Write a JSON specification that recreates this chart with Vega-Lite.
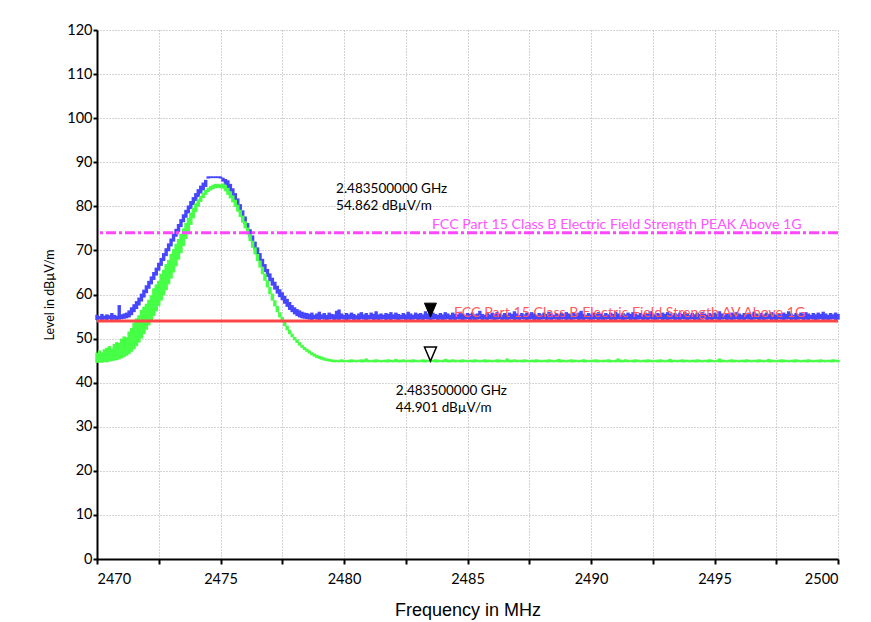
{
"$schema":"https://vega.github.io/schema/vega-lite/v6.json",
"width":741,"height":529,
"autosize":{"type":"none"},
"padding":{"left":97,"top":30,"right":33,"bottom":63},
"background":"white",
"config":{"view":{"stroke":null},"axis":{"labelFont":"Lato","labelFontSize":14.5,"labelColor":"black","titleColor":"black","domainColor":"black","domainWidth":2,"tickColor":"black","tickWidth":2,"gridColor":"#a8a8a8","gridDash":[1,2],"gridWidth":1}},
"datasets":{
"tr":[
{"f":2470.0,"b1":54.2,"b2":55.4,"g1":44.5,"g2":46.8},
{"f":2470.1,"b1":54.3,"b2":55.1,"g1":44.6,"g2":47.3},
{"f":2470.2,"b1":54.1,"b2":55.6,"g1":44.5,"g2":46.9},
{"f":2470.3,"b1":54.3,"b2":55.2,"g1":44.7,"g2":47.6},
{"f":2470.4,"b1":54.2,"b2":55.5,"g1":44.6,"g2":47.9},
{"f":2470.5,"b1":54.4,"b2":55.3,"g1":44.8,"g2":48.3},
{"f":2470.6,"b1":54.2,"b2":55.8,"g1":44.9,"g2":47.8},
{"f":2470.7,"b1":54.3,"b2":55.4,"g1":45.0,"g2":48.8},
{"f":2470.8,"b1":54.2,"b2":55.2,"g1":45.1,"g2":49.2},
{"f":2470.9,"b1":54.3,"b2":57.6,"g1":45.3,"g2":49.0},
{"f":2471.0,"b1":54.4,"b2":55.5,"g1":45.5,"g2":50.0},
{"f":2471.1,"b1":54.5,"b2":55.7,"g1":45.8,"g2":50.5},
{"f":2471.2,"b1":54.6,"b2":55.9,"g1":46.1,"g2":50.3},
{"f":2471.3,"b1":54.8,"b2":56.4,"g1":46.5,"g2":51.6},
{"f":2471.4,"b1":55.3,"b2":57.1,"g1":47.0,"g2":52.4},
{"f":2471.5,"b1":56.0,"b2":57.8,"g1":47.6,"g2":53.6},
{"f":2471.6,"b1":56.7,"b2":58.5,"g1":48.3,"g2":54.6},
{"f":2471.7,"b1":57.5,"b2":59.3,"g1":49.1,"g2":55.3},
{"f":2471.8,"b1":58.4,"b2":60.2,"g1":50.0,"g2":56.5},
{"f":2471.9,"b1":59.3,"b2":61.1,"g1":51.0,"g2":57.2},
{"f":2472.0,"b1":60.3,"b2":62.1,"g1":52.0,"g2":57.9},
{"f":2472.1,"b1":61.3,"b2":63.1,"g1":53.0,"g2":58.8},
{"f":2472.2,"b1":62.3,"b2":64.1,"g1":54.0,"g2":59.8},
{"f":2472.3,"b1":63.3,"b2":65.1,"g1":55.1,"g2":61.4},
{"f":2472.4,"b1":64.3,"b2":66.1,"g1":56.2,"g2":62.3},
{"f":2472.5,"b1":65.4,"b2":67.2,"g1":57.4,"g2":63.1},
{"f":2472.6,"b1":66.5,"b2":68.3,"g1":58.6,"g2":64.7},
{"f":2472.7,"b1":67.6,"b2":69.4,"g1":59.8,"g2":65.6},
{"f":2472.8,"b1":68.7,"b2":70.5,"g1":61.0,"g2":66.9},
{"f":2472.9,"b1":69.8,"b2":71.6,"g1":62.3,"g2":67.8},
{"f":2473.0,"b1":70.9,"b2":72.7,"g1":63.6,"g2":69.2},
{"f":2473.1,"b1":72.0,"b2":73.8,"g1":65.0,"g2":70.3},
{"f":2473.2,"b1":73.1,"b2":74.9,"g1":66.4,"g2":71.5},
{"f":2473.3,"b1":74.2,"b2":76.0,"g1":67.9,"g2":72.6},
{"f":2473.4,"b1":75.3,"b2":77.1,"g1":69.4,"g2":73.8},
{"f":2473.5,"b1":76.4,"b2":78.2,"g1":71.0,"g2":75.0},
{"f":2473.6,"b1":77.4,"b2":79.2,"g1":72.6,"g2":76.2},
{"f":2473.7,"b1":78.4,"b2":80.2,"g1":74.2,"g2":77.4},
{"f":2473.8,"b1":79.4,"b2":81.2,"g1":75.8,"g2":78.6},
{"f":2473.9,"b1":80.3,"b2":82.1,"g1":77.3,"g2":79.7},
{"f":2474.0,"b1":81.2,"b2":83.0,"g1":78.7,"g2":80.7},
{"f":2474.1,"b1":82.1,"b2":83.9,"g1":79.9,"g2":81.6},
{"f":2474.2,"b1":82.9,"b2":84.7,"g1":81.0,"g2":82.4},
{"f":2474.3,"b1":83.6,"b2":85.4,"g1":81.9,"g2":83.1},
{"f":2474.4,"b1":84.4,"b2":86.0,"g1":82.6,"g2":83.7},
{"f":2474.5,"b1":86.3,"b2":86.8,"g1":83.2,"g2":84.2},
{"f":2474.6,"b1":86.4,"b2":86.8,"g1":83.6,"g2":84.6},
{"f":2474.7,"b1":86.4,"b2":86.8,"g1":83.9,"g2":84.9},
{"f":2474.8,"b1":86.4,"b2":86.8,"g1":84.1,"g2":85.1},
{"f":2474.9,"b1":86.4,"b2":86.8,"g1":84.2,"g2":85.1},
{"f":2475.0,"b1":86.3,"b2":86.8,"g1":84.1,"g2":85.0},
{"f":2475.1,"b1":85.6,"b2":86.5,"g1":84.0,"g2":85.2},
{"f":2475.2,"b1":84.9,"b2":86.2,"g1":83.4,"g2":84.8},
{"f":2475.3,"b1":84.1,"b2":85.9,"g1":82.6,"g2":84.2},
{"f":2475.4,"b1":83.3,"b2":85.1,"g1":81.8,"g2":83.4},
{"f":2475.5,"b1":82.3,"b2":84.1,"g1":80.9,"g2":82.5},
{"f":2475.6,"b1":81.2,"b2":83.0,"g1":79.9,"g2":81.5},
{"f":2475.7,"b1":80.0,"b2":81.8,"g1":78.8,"g2":80.4},
{"f":2475.8,"b1":78.7,"b2":80.5,"g1":77.6,"g2":79.2},
{"f":2475.9,"b1":77.3,"b2":79.1,"g1":76.3,"g2":77.9},
{"f":2476.0,"b1":75.9,"b2":77.7,"g1":75.0,"g2":76.6},
{"f":2476.1,"b1":74.4,"b2":76.2,"g1":73.6,"g2":75.2},
{"f":2476.2,"b1":73.0,"b2":74.8,"g1":72.1,"g2":73.7},
{"f":2476.3,"b1":71.6,"b2":73.4,"g1":70.6,"g2":72.2},
{"f":2476.4,"b1":70.2,"b2":72.0,"g1":69.1,"g2":70.7},
{"f":2476.5,"b1":68.9,"b2":70.7,"g1":67.6,"g2":69.2},
{"f":2476.6,"b1":67.6,"b2":69.4,"g1":66.1,"g2":67.7},
{"f":2476.7,"b1":66.3,"b2":68.1,"g1":64.6,"g2":66.2},
{"f":2476.8,"b1":65.1,"b2":66.9,"g1":63.1,"g2":64.7},
{"f":2476.9,"b1":64.0,"b2":65.8,"g1":61.6,"g2":63.2},
{"f":2477.0,"b1":63.0,"b2":64.8,"g1":60.1,"g2":61.7},
{"f":2477.1,"b1":62.0,"b2":63.8,"g1":58.6,"g2":60.2},
{"f":2477.2,"b1":61.1,"b2":62.9,"g1":57.3,"g2":58.7},
{"f":2477.3,"b1":60.2,"b2":62.0,"g1":56.0,"g2":57.4},
{"f":2477.4,"b1":59.4,"b2":61.2,"g1":54.8,"g2":56.0},
{"f":2477.5,"b1":58.7,"b2":60.5,"g1":53.7,"g2":54.9},
{"f":2477.6,"b1":57.9,"b2":59.7,"g1":52.8,"g2":53.8},
{"f":2477.7,"b1":57.2,"b2":59.0,"g1":51.9,"g2":52.9},
{"f":2477.8,"b1":56.5,"b2":58.3,"g1":51.0,"g2":52.0},
{"f":2477.9,"b1":56.0,"b2":57.6,"g1":50.3,"g2":51.1},
{"f":2478.0,"b1":55.5,"b2":57.1,"g1":49.6,"g2":50.4},
{"f":2478.1,"b1":55.1,"b2":56.7,"g1":49.0,"g2":49.8},
{"f":2478.2,"b1":54.8,"b2":56.4,"g1":48.4,"g2":49.2},
{"f":2478.3,"b1":54.6,"b2":56.1,"g1":47.9,"g2":48.6},
{"f":2478.4,"b1":54.5,"b2":55.9,"g1":47.4,"g2":48.1},
{"f":2478.5,"b1":54.4,"b2":55.8,"g1":47.0,"g2":47.7},
{"f":2478.6,"b1":54.3,"b2":55.6,"g1":46.6,"g2":47.3},
{"f":2478.7,"b1":54.2,"b2":55.9,"g1":46.2,"g2":46.9},
{"f":2478.8,"b1":54.4,"b2":55.4,"g1":45.9,"g2":46.6},
{"f":2478.9,"b1":54.3,"b2":55.7,"g1":45.6,"g2":46.3},
{"f":2479.0,"b1":54.2,"b2":56.1,"g1":45.4,"g2":46.1},
{"f":2479.1,"b1":54.4,"b2":55.5,"g1":45.2,"g2":45.9},
{"f":2479.2,"b1":54.3,"b2":55.8,"g1":45.0,"g2":45.7},
{"f":2479.3,"b1":54.1,"b2":55.4,"g1":44.9,"g2":45.5},
{"f":2479.4,"b1":54.3,"b2":55.9,"g1":44.8,"g2":45.4},
{"f":2479.5,"b1":54.4,"b2":55.6,"g1":44.7,"g2":45.3},
{"f":2479.6,"b1":54.2,"b2":55.5,"g1":44.6,"g2":45.2},
{"f":2479.7,"b1":54.3,"b2":56.3,"g1":44.7,"g2":45.2},
{"f":2479.8,"b1":54.2,"b2":56.6,"g1":44.6,"g2":45.1},
{"f":2479.9,"b1":54.4,"b2":55.7,"g1":44.7,"g2":45.3},
{"f":2480.0,"b1":54.3,"b2":55.4,"g1":44.6,"g2":45.2},
{"f":2480.1,"b1":54.1,"b2":55.8,"g1":44.7,"g2":45.1},
{"f":2480.2,"b1":54.3,"b2":55.5,"g1":44.6,"g2":45.2},
{"f":2480.3,"b1":54.4,"b2":55.9,"g1":44.6,"g2":45.3},
{"f":2480.4,"b1":54.2,"b2":55.6,"g1":44.7,"g2":45.2},
{"f":2480.5,"b1":54.3,"b2":55.3,"g1":44.6,"g2":45.1},
{"f":2480.6,"b1":54.2,"b2":55.7,"g1":44.7,"g2":45.2},
{"f":2480.7,"b1":54.4,"b2":56.0,"g1":44.6,"g2":45.3},
{"f":2480.8,"b1":54.3,"b2":55.5,"g1":44.6,"g2":45.2},
{"f":2480.9,"b1":54.2,"b2":55.8,"g1":44.7,"g2":45.5},
{"f":2481.0,"b1":54.3,"b2":55.4,"g1":44.6,"g2":45.2},
{"f":2481.1,"b1":54.4,"b2":55.9,"g1":44.7,"g2":45.1},
{"f":2481.2,"b1":54.2,"b2":55.6,"g1":44.6,"g2":45.2},
{"f":2481.3,"b1":54.3,"b2":56.2,"g1":44.6,"g2":45.3},
{"f":2481.4,"b1":54.1,"b2":55.5,"g1":44.7,"g2":45.2},
{"f":2481.5,"b1":54.3,"b2":55.7,"g1":44.6,"g2":45.1},
{"f":2481.6,"b1":54.4,"b2":55.4,"g1":44.7,"g2":45.2},
{"f":2481.7,"b1":54.2,"b2":55.8,"g1":44.6,"g2":45.2},
{"f":2481.8,"b1":54.3,"b2":55.6,"g1":44.6,"g2":45.3},
{"f":2481.9,"b1":54.2,"b2":56.0,"g1":44.7,"g2":45.2},
{"f":2482.0,"b1":54.4,"b2":55.5,"g1":44.6,"g2":45.1},
{"f":2482.1,"b1":54.3,"b2":55.9,"g1":44.7,"g2":45.4},
{"f":2482.2,"b1":54.2,"b2":55.6,"g1":44.6,"g2":45.2},
{"f":2482.3,"b1":54.3,"b2":55.4,"g1":44.6,"g2":45.2},
{"f":2482.4,"b1":54.4,"b2":55.8,"g1":44.7,"g2":45.3},
{"f":2482.5,"b1":54.2,"b2":55.5,"g1":44.6,"g2":45.1},
{"f":2482.6,"b1":54.3,"b2":56.1,"g1":44.7,"g2":45.2},
{"f":2482.7,"b1":54.1,"b2":55.7,"g1":44.6,"g2":45.2},
{"f":2482.8,"b1":54.3,"b2":55.4,"g1":44.6,"g2":45.3},
{"f":2482.9,"b1":54.4,"b2":55.9,"g1":44.7,"g2":45.2},
{"f":2483.0,"b1":54.2,"b2":55.6,"g1":44.6,"g2":45.1},
{"f":2483.1,"b1":54.3,"b2":55.8,"g1":44.7,"g2":45.2},
{"f":2483.2,"b1":54.2,"b2":55.5,"g1":44.6,"g2":45.3},
{"f":2483.3,"b1":54.4,"b2":56.2,"g1":44.6,"g2":45.2},
{"f":2483.4,"b1":54.3,"b2":55.7,"g1":44.7,"g2":45.2},
{"f":2483.5,"b1":54.2,"b2":55.5,"g1":44.6,"g2":45.1},
{"f":2483.6,"b1":54.3,"b2":55.9,"g1":44.7,"g2":45.2},
{"f":2483.7,"b1":54.4,"b2":55.6,"g1":44.6,"g2":45.3},
{"f":2483.8,"b1":54.2,"b2":55.4,"g1":44.6,"g2":45.2},
{"f":2483.9,"b1":54.3,"b2":55.8,"g1":44.7,"g2":45.1},
{"f":2484.0,"b1":54.1,"b2":55.5,"g1":44.6,"g2":45.2},
{"f":2484.1,"b1":54.3,"b2":56.0,"g1":44.7,"g2":45.4},
{"f":2484.2,"b1":54.4,"b2":55.7,"g1":44.6,"g2":45.2},
{"f":2484.3,"b1":54.2,"b2":55.4,"g1":44.6,"g2":45.2},
{"f":2484.4,"b1":54.3,"b2":55.9,"g1":44.7,"g2":45.3},
{"f":2484.5,"b1":54.2,"b2":55.6,"g1":44.6,"g2":45.2},
{"f":2484.6,"b1":54.4,"b2":55.5,"g1":44.7,"g2":45.1},
{"f":2484.7,"b1":54.3,"b2":56.1,"g1":44.6,"g2":45.2},
{"f":2484.8,"b1":54.2,"b2":55.7,"g1":44.6,"g2":45.3},
{"f":2484.9,"b1":54.3,"b2":55.4,"g1":44.7,"g2":45.2},
{"f":2485.0,"b1":54.4,"b2":55.8,"g1":44.6,"g2":45.1},
{"f":2485.1,"b1":54.2,"b2":55.6,"g1":44.7,"g2":45.2},
{"f":2485.2,"b1":54.3,"b2":55.9,"g1":44.6,"g2":45.2},
{"f":2485.3,"b1":54.1,"b2":55.5,"g1":44.6,"g2":45.3},
{"f":2485.4,"b1":54.3,"b2":55.7,"g1":44.7,"g2":45.2},
{"f":2485.5,"b1":54.4,"b2":56.3,"g1":44.6,"g2":45.1},
{"f":2485.6,"b1":54.2,"b2":55.6,"g1":44.7,"g2":45.2},
{"f":2485.7,"b1":54.3,"b2":55.4,"g1":44.6,"g2":45.3},
{"f":2485.8,"b1":54.2,"b2":55.8,"g1":44.6,"g2":45.2},
{"f":2485.9,"b1":54.4,"b2":55.5,"g1":44.7,"g2":45.2},
{"f":2486.0,"b1":54.3,"b2":55.9,"g1":44.6,"g2":45.1},
{"f":2486.1,"b1":54.2,"b2":55.6,"g1":44.7,"g2":45.2},
{"f":2486.2,"b1":54.3,"b2":56.0,"g1":44.6,"g2":45.3},
{"f":2486.3,"b1":54.4,"b2":55.7,"g1":44.6,"g2":45.2},
{"f":2486.4,"b1":54.2,"b2":55.4,"g1":44.7,"g2":45.2},
{"f":2486.5,"b1":54.3,"b2":55.8,"g1":44.6,"g2":45.1},
{"f":2486.6,"b1":54.1,"b2":55.5,"g1":44.7,"g2":45.5},
{"f":2486.7,"b1":54.3,"b2":55.9,"g1":44.6,"g2":45.2},
{"f":2486.8,"b1":54.4,"b2":55.6,"g1":44.6,"g2":45.2},
{"f":2486.9,"b1":54.2,"b2":56.2,"g1":44.7,"g2":45.3},
{"f":2487.0,"b1":54.3,"b2":55.7,"g1":44.6,"g2":45.2},
{"f":2487.1,"b1":54.2,"b2":55.4,"g1":44.7,"g2":45.1},
{"f":2487.2,"b1":54.4,"b2":55.8,"g1":44.6,"g2":45.2},
{"f":2487.3,"b1":54.3,"b2":55.5,"g1":44.6,"g2":45.3},
{"f":2487.4,"b1":54.2,"b2":55.9,"g1":44.7,"g2":45.2},
{"f":2487.5,"b1":54.3,"b2":55.6,"g1":44.6,"g2":45.1},
{"f":2487.6,"b1":54.4,"b2":56.0,"g1":44.7,"g2":45.2},
{"f":2487.7,"b1":54.2,"b2":55.7,"g1":44.6,"g2":45.2},
{"f":2487.8,"b1":54.3,"b2":55.4,"g1":44.6,"g2":45.3},
{"f":2487.9,"b1":54.1,"b2":55.8,"g1":44.7,"g2":45.2},
{"f":2488.0,"b1":54.3,"b2":55.5,"g1":44.6,"g2":45.1},
{"f":2488.1,"b1":54.4,"b2":55.9,"g1":44.7,"g2":45.2},
{"f":2488.2,"b1":54.2,"b2":55.6,"g1":44.6,"g2":45.2},
{"f":2488.3,"b1":54.3,"b2":56.1,"g1":44.6,"g2":45.3},
{"f":2488.4,"b1":54.2,"b2":55.7,"g1":44.7,"g2":45.2},
{"f":2488.5,"b1":54.4,"b2":55.4,"g1":44.6,"g2":45.1},
{"f":2488.6,"b1":54.3,"b2":55.8,"g1":44.7,"g2":45.2},
{"f":2488.7,"b1":54.2,"b2":55.5,"g1":44.6,"g2":45.4},
{"f":2488.8,"b1":54.3,"b2":55.9,"g1":44.6,"g2":45.2},
{"f":2488.9,"b1":54.4,"b2":55.6,"g1":44.7,"g2":45.2},
{"f":2489.0,"b1":54.2,"b2":56.0,"g1":44.6,"g2":45.1},
{"f":2489.1,"b1":54.3,"b2":55.7,"g1":44.7,"g2":45.2},
{"f":2489.2,"b1":54.1,"b2":55.4,"g1":44.6,"g2":45.3},
{"f":2489.3,"b1":54.3,"b2":55.8,"g1":44.6,"g2":45.2},
{"f":2489.4,"b1":54.4,"b2":55.5,"g1":44.7,"g2":45.2},
{"f":2489.5,"b1":54.2,"b2":55.9,"g1":44.6,"g2":45.1},
{"f":2489.6,"b1":54.3,"b2":56.3,"g1":44.7,"g2":45.2},
{"f":2489.7,"b1":54.2,"b2":55.6,"g1":44.6,"g2":45.3},
{"f":2489.8,"b1":54.4,"b2":55.4,"g1":44.6,"g2":45.2},
{"f":2489.9,"b1":54.3,"b2":55.8,"g1":44.7,"g2":45.1},
{"f":2490.0,"b1":54.2,"b2":55.5,"g1":44.6,"g2":45.2},
{"f":2490.1,"b1":54.3,"b2":55.9,"g1":44.7,"g2":45.2},
{"f":2490.2,"b1":54.4,"b2":55.6,"g1":44.6,"g2":45.3},
{"f":2490.3,"b1":54.2,"b2":56.0,"g1":44.6,"g2":45.2},
{"f":2490.4,"b1":54.3,"b2":55.7,"g1":44.7,"g2":45.1},
{"f":2490.5,"b1":54.1,"b2":55.4,"g1":44.6,"g2":45.2},
{"f":2490.6,"b1":54.3,"b2":55.8,"g1":44.7,"g2":45.2},
{"f":2490.7,"b1":54.4,"b2":55.5,"g1":44.6,"g2":45.3},
{"f":2490.8,"b1":54.2,"b2":55.9,"g1":44.6,"g2":45.2},
{"f":2490.9,"b1":54.3,"b2":55.6,"g1":44.7,"g2":45.1},
{"f":2491.0,"b1":54.2,"b2":56.1,"g1":44.6,"g2":45.2},
{"f":2491.1,"b1":54.4,"b2":55.7,"g1":44.7,"g2":45.5},
{"f":2491.2,"b1":54.3,"b2":55.4,"g1":44.6,"g2":45.2},
{"f":2491.3,"b1":54.2,"b2":55.8,"g1":44.6,"g2":45.2},
{"f":2491.4,"b1":54.3,"b2":55.5,"g1":44.7,"g2":45.3},
{"f":2491.5,"b1":54.4,"b2":55.9,"g1":44.6,"g2":45.2},
{"f":2491.6,"b1":54.2,"b2":55.6,"g1":44.7,"g2":45.1},
{"f":2491.7,"b1":54.3,"b2":56.0,"g1":44.6,"g2":45.2},
{"f":2491.8,"b1":54.1,"b2":55.7,"g1":44.6,"g2":45.3},
{"f":2491.9,"b1":54.3,"b2":55.4,"g1":44.7,"g2":45.2},
{"f":2492.0,"b1":54.4,"b2":55.8,"g1":44.6,"g2":45.1},
{"f":2492.1,"b1":54.2,"b2":55.5,"g1":44.7,"g2":45.2},
{"f":2492.2,"b1":54.3,"b2":55.9,"g1":44.6,"g2":45.2},
{"f":2492.3,"b1":54.2,"b2":55.6,"g1":44.6,"g2":45.3},
{"f":2492.4,"b1":54.4,"b2":56.2,"g1":44.7,"g2":45.2},
{"f":2492.5,"b1":54.3,"b2":55.7,"g1":44.6,"g2":45.1},
{"f":2492.6,"b1":54.2,"b2":55.4,"g1":44.7,"g2":45.2},
{"f":2492.7,"b1":54.3,"b2":55.8,"g1":44.6,"g2":45.2},
{"f":2492.8,"b1":54.4,"b2":55.5,"g1":44.6,"g2":45.3},
{"f":2492.9,"b1":54.2,"b2":55.9,"g1":44.7,"g2":45.2},
{"f":2493.0,"b1":54.3,"b2":55.6,"g1":44.6,"g2":45.1},
{"f":2493.1,"b1":54.1,"b2":56.0,"g1":44.7,"g2":45.2},
{"f":2493.2,"b1":54.3,"b2":55.7,"g1":44.6,"g2":45.4},
{"f":2493.3,"b1":54.4,"b2":55.4,"g1":44.6,"g2":45.2},
{"f":2493.4,"b1":54.2,"b2":55.8,"g1":44.7,"g2":45.2},
{"f":2493.5,"b1":54.3,"b2":55.5,"g1":44.6,"g2":45.1},
{"f":2493.6,"b1":54.2,"b2":55.9,"g1":44.7,"g2":45.2},
{"f":2493.7,"b1":54.4,"b2":55.6,"g1":44.6,"g2":45.3},
{"f":2493.8,"b1":54.3,"b2":56.1,"g1":44.6,"g2":45.2},
{"f":2493.9,"b1":54.2,"b2":55.7,"g1":44.7,"g2":45.2},
{"f":2494.0,"b1":54.3,"b2":55.4,"g1":44.6,"g2":45.1},
{"f":2494.1,"b1":54.4,"b2":55.8,"g1":44.7,"g2":45.2},
{"f":2494.2,"b1":54.2,"b2":55.5,"g1":44.6,"g2":45.2},
{"f":2494.3,"b1":54.3,"b2":55.9,"g1":44.6,"g2":45.3},
{"f":2494.4,"b1":54.1,"b2":55.6,"g1":44.7,"g2":45.2},
{"f":2494.5,"b1":54.3,"b2":56.0,"g1":44.6,"g2":45.1},
{"f":2494.6,"b1":54.4,"b2":55.7,"g1":44.7,"g2":45.2},
{"f":2494.7,"b1":54.2,"b2":55.4,"g1":44.6,"g2":45.2},
{"f":2494.8,"b1":54.3,"b2":55.8,"g1":44.6,"g2":45.3},
{"f":2494.9,"b1":54.2,"b2":55.5,"g1":44.7,"g2":45.2},
{"f":2495.0,"b1":54.4,"b2":55.9,"g1":44.6,"g2":45.1},
{"f":2495.1,"b1":54.3,"b2":55.6,"g1":44.7,"g2":45.2},
{"f":2495.2,"b1":54.2,"b2":56.2,"g1":44.6,"g2":45.5},
{"f":2495.3,"b1":54.3,"b2":55.7,"g1":44.6,"g2":45.2},
{"f":2495.4,"b1":54.4,"b2":55.4,"g1":44.7,"g2":45.2},
{"f":2495.5,"b1":54.2,"b2":55.8,"g1":44.6,"g2":45.1},
{"f":2495.6,"b1":54.3,"b2":55.5,"g1":44.7,"g2":45.2},
{"f":2495.7,"b1":54.1,"b2":55.9,"g1":44.6,"g2":45.3},
{"f":2495.8,"b1":54.3,"b2":55.6,"g1":44.6,"g2":45.2},
{"f":2495.9,"b1":54.4,"b2":56.0,"g1":44.7,"g2":45.2},
{"f":2496.0,"b1":54.2,"b2":55.7,"g1":44.6,"g2":45.1},
{"f":2496.1,"b1":54.3,"b2":55.4,"g1":44.7,"g2":45.2},
{"f":2496.2,"b1":54.2,"b2":55.8,"g1":44.6,"g2":45.2},
{"f":2496.3,"b1":54.4,"b2":55.5,"g1":44.6,"g2":45.3},
{"f":2496.4,"b1":54.3,"b2":55.9,"g1":44.7,"g2":45.2},
{"f":2496.5,"b1":54.2,"b2":55.6,"g1":44.6,"g2":45.1},
{"f":2496.6,"b1":54.3,"b2":56.1,"g1":44.7,"g2":45.2},
{"f":2496.7,"b1":54.4,"b2":55.7,"g1":44.6,"g2":45.2},
{"f":2496.8,"b1":54.2,"b2":55.4,"g1":44.6,"g2":45.3},
{"f":2496.9,"b1":54.3,"b2":55.8,"g1":44.7,"g2":45.2},
{"f":2497.0,"b1":54.1,"b2":55.5,"g1":44.6,"g2":45.1},
{"f":2497.1,"b1":54.3,"b2":55.9,"g1":44.7,"g2":45.2},
{"f":2497.2,"b1":54.4,"b2":55.6,"g1":44.6,"g2":45.4},
{"f":2497.3,"b1":54.2,"b2":56.0,"g1":44.6,"g2":45.2},
{"f":2497.4,"b1":54.3,"b2":55.7,"g1":44.7,"g2":45.2},
{"f":2497.5,"b1":54.2,"b2":55.4,"g1":44.6,"g2":45.1},
{"f":2497.6,"b1":54.4,"b2":55.8,"g1":44.7,"g2":45.2},
{"f":2497.7,"b1":54.3,"b2":55.5,"g1":44.6,"g2":45.3},
{"f":2497.8,"b1":54.2,"b2":55.9,"g1":44.6,"g2":45.2},
{"f":2497.9,"b1":54.3,"b2":55.6,"g1":44.7,"g2":45.2},
{"f":2498.0,"b1":54.4,"b2":56.2,"g1":44.6,"g2":45.1},
{"f":2498.1,"b1":54.2,"b2":55.7,"g1":44.7,"g2":45.2},
{"f":2498.2,"b1":54.3,"b2":55.4,"g1":44.6,"g2":45.2},
{"f":2498.3,"b1":54.1,"b2":55.8,"g1":44.6,"g2":45.3},
{"f":2498.4,"b1":54.3,"b2":55.5,"g1":44.7,"g2":45.2},
{"f":2498.5,"b1":54.4,"b2":55.9,"g1":44.6,"g2":45.1},
{"f":2498.6,"b1":54.2,"b2":55.6,"g1":44.7,"g2":45.2},
{"f":2498.7,"b1":54.3,"b2":56.0,"g1":44.6,"g2":45.2},
{"f":2498.8,"b1":54.2,"b2":55.7,"g1":44.6,"g2":45.3},
{"f":2498.9,"b1":54.4,"b2":55.4,"g1":44.7,"g2":45.2},
{"f":2499.0,"b1":54.3,"b2":55.8,"g1":44.6,"g2":45.1},
{"f":2499.1,"b1":54.2,"b2":55.5,"g1":44.7,"g2":45.2},
{"f":2499.2,"b1":54.3,"b2":55.9,"g1":44.6,"g2":45.2},
{"f":2499.3,"b1":54.4,"b2":55.6,"g1":44.6,"g2":45.3},
{"f":2499.4,"b1":54.2,"b2":56.1,"g1":44.7,"g2":45.2},
{"f":2499.5,"b1":54.3,"b2":55.7,"g1":44.6,"g2":45.1},
{"f":2499.6,"b1":54.1,"b2":55.4,"g1":44.7,"g2":45.2},
{"f":2499.7,"b1":54.3,"b2":55.8,"g1":44.6,"g2":45.2},
{"f":2499.8,"b1":54.4,"b2":55.5,"g1":44.6,"g2":45.3},
{"f":2499.9,"b1":54.2,"b2":55.9,"g1":44.7,"g2":45.2},
{"f":2500.0,"b1":54.3,"b2":55.6,"g1":44.6,"g2":45.2}
],
"lim":[{"name":"AV","v":54},{"name":"PEAK","v":74}],
"limtxt":[
{"name":"PEAK","f":2483.56,"v":75.8,"t":"FCC Part 15 Class B Electric Field Strength PEAK Above 1G"},
{"name":"AV","f":2484.45,"v":55.8,"t":"FCC Part 15 Class B Electric Field Strength AV Above 1G"}
],
"mk":[{"name":"M1","f":2483.5,"v":54.862},{"name":"M2","f":2483.5,"v":44.901}],
"mktxt":[
{"f":2479.68,"v":83.9,"t":"2.483500000 GHz"},
{"f":2479.68,"v":80.1,"t":"54.862 dBµV/m"},
{"f":2482.1,"v":38.0,"t":"2.483500000 GHz"},
{"f":2482.1,"v":34.2,"t":"44.901 dBµV/m"}
]
},
"layer":[
{"data":{"name":"tr"},
 "mark":{"type":"rule","color":"#4646FF","strokeWidth":3.4,"strokeCap":"butt"},
 "encoding":{
  "x":{"field":"f","type":"quantitative","scale":{"domain":[2470,2500],"nice":false,"zero":false},
       "axis":{"title":"Frequency in MHz","titleFont":"Liberation Sans","titleFontSize":18,"titleFontWeight":"normal","titleY":56,"titleBaseline":"alphabetic",
               "values":[2470,2472.5,2475,2477.5,2480,2482.5,2485,2487.5,2490,2492.5,2495,2497.5,2500],
               "format":"d","labelExpr":"datum.value % 5 === 0 ? datum.label : ''","tickSize":5,"labelPadding":8,"grid":true}},
  "y":{"field":"b1","type":"quantitative","scale":{"domain":[0,120],"nice":false,"zero":true},
       "axis":{"title":"Level in dBµV/m","titleFont":"Lato","titleFontSize":12.5,"titleFontWeight":"normal","titleX":-44,"titleBaseline":"alphabetic",
               "values":[0,5,10,15,20,25,30,35,40,45,50,55,60,65,70,75,80,85,90,95,100,105,110,115,120],
               "labelExpr":"datum.value % 10 === 0 ? datum.label : ''","tickSize":4,"labelPadding":1,"grid":true}},
  "y2":{"field":"b2"}}},
{"data":{"name":"tr"},
 "mark":{"type":"rule","color":"#46FF46","strokeWidth":3.4,"strokeCap":"butt"},
 "encoding":{"x":{"field":"f","type":"quantitative"},"y":{"field":"g1","type":"quantitative"},"y2":{"field":"g2"}}},
{"data":{"name":"lim"},"transform":[{"filter":"datum.name === 'AV'"}],
 "mark":{"type":"rule","color":"#FF4646","strokeWidth":3},
 "encoding":{"y":{"field":"v","type":"quantitative"}}},
{"data":{"name":"lim"},"transform":[{"filter":"datum.name === 'PEAK'"}],
 "mark":{"type":"rule","color":"#FF46FF","strokeWidth":3,"strokeDash":[10,3,3,3]},
 "encoding":{"y":{"field":"v","type":"quantitative"}}},
{"data":{"name":"limtxt"},"transform":[{"filter":"datum.name === 'PEAK'"}],
 "mark":{"type":"text","align":"left","baseline":"middle","font":"Lato","fontSize":14.2,"color":"#FF55FF"},
 "encoding":{"x":{"field":"f","type":"quantitative"},"y":{"field":"v","type":"quantitative"},"text":{"field":"t"}}},
{"data":{"name":"limtxt"},"transform":[{"filter":"datum.name === 'AV'"}],
 "mark":{"type":"text","align":"left","baseline":"middle","font":"Lato","fontSize":14.2,"color":"#FF5A5A"},
 "encoding":{"x":{"field":"f","type":"quantitative"},"y":{"field":"v","type":"quantitative"},"text":{"field":"t"}}},
{"data":{"name":"mk"},"transform":[{"filter":"datum.name === 'M1'"}],
 "mark":{"type":"point","shape":"M-0.857,-2L0.857,-2L0,0Z","size":196,"filled":true,"fill":"black","stroke":"black","strokeWidth":1,"opacity":1},
 "encoding":{"x":{"field":"f","type":"quantitative"},"y":{"field":"v","type":"quantitative"}}},
{"data":{"name":"mk"},"transform":[{"filter":"datum.name === 'M2'"}],
 "mark":{"type":"point","shape":"M-0.857,-2L0.857,-2L0,0Z","size":196,"filled":true,"fill":"white","stroke":"black","strokeWidth":1.5,"opacity":1},
 "encoding":{"x":{"field":"f","type":"quantitative"},"y":{"field":"v","type":"quantitative"}}},
{"data":{"name":"mktxt"},
 "mark":{"type":"text","align":"left","baseline":"middle","font":"Lato","fontSize":13.5,"color":"black"},
 "encoding":{"x":{"field":"f","type":"quantitative"},"y":{"field":"v","type":"quantitative"},"text":{"field":"t"}}}
]
}
